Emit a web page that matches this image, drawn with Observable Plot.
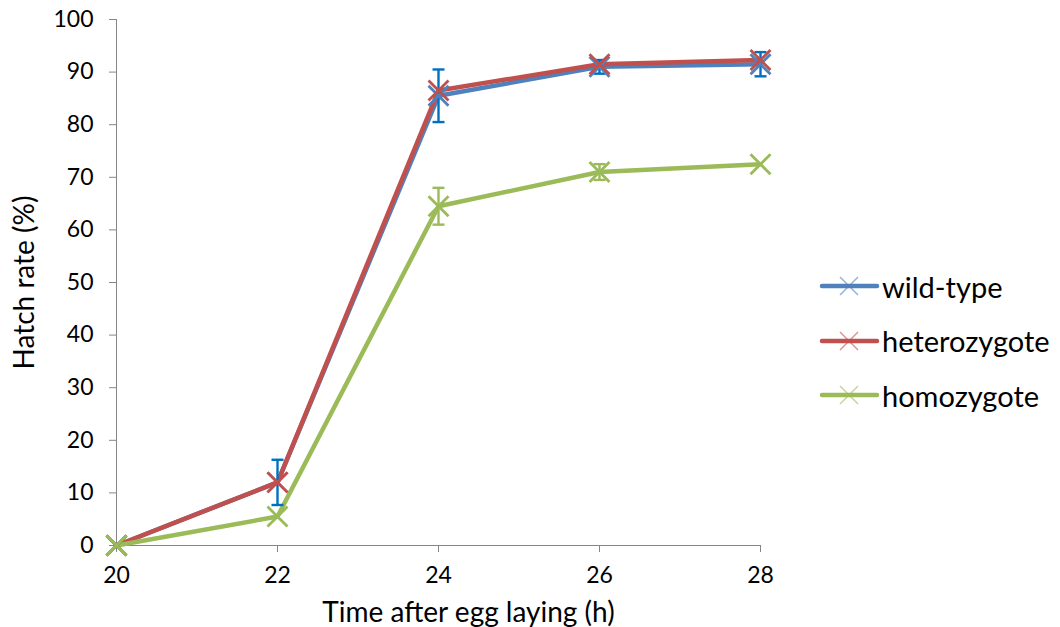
<!DOCTYPE html>
<html><head><meta charset="utf-8">
<script src="https://cdn.jsdelivr.net/npm/d3@7"></script>
<script src="https://cdn.jsdelivr.net/npm/@observablehq/plot@0.6"></script>
<style>
body{margin:0;background:#fff;font-family:Lato,"Open Sans",sans-serif;}
#wrap{position:relative;width:1060px;height:627px;}
#legend{position:absolute;left:818px;top:259px;font-size:29px;color:#000;}
.item{display:flex;align-items:center;height:54.5px;}
.item span{margin-left:2px;}
</style>
</head><body><div id="wrap"><div id="chart"></div><div id="legend"></div></div>
<script>
const hours = [20, 22, 24, 26, 28];
const seriesNames = ["wild-type", "heterozygote", "homozygote"];
const wildType = [0, 12, 85.5, 91, 91.5];
const heterozygote = [0, 12, 86.5, 91.5, 92.3];
const homozygote = [0, 5.5, 64.5, 71, 72.5];
const wildTypeErr = [0, 4.3, 5, 1.3, 2.3];
const homozygoteErr = [0, 0, 3.5, 1.5, 0];
const colors = ["#4F81BD", "#C0504D", "#9BBB59"];
const errColors = ["#0070C0", "#9BBB59"];
const yTicks = [0,10,20,30,40,50,60,70,80,90,100];
const xTicks = [20,22,24,26,28];

const vals = [wildType, heterozygote, homozygote];
const data = [];
seriesNames.forEach((s,i)=>hours.forEach((h,j)=>data.push({series:s,x:h,y:vals[i][j]})));
const errs = [];
[["wild-type",wildType,wildTypeErr],["homozygote",homozygote,homozygoteErr]].forEach(([s,v,e])=>{
  hours.forEach((h,j)=>{ if(e[j]>0) errs.push({series:s,x:h,lo:v[j]-e[j],hi:v[j]+e[j]}); });
});

const cross = {draw(ctx,size){const r=Math.sqrt(size/Math.PI);ctx.moveTo(-r,-r);ctx.lineTo(r,r);ctx.moveTo(-r,r);ctx.lineTo(r,-r);}};
const hbar = {draw(ctx,size){const r=Math.sqrt(size/Math.PI);ctx.moveTo(-r,0);ctx.lineTo(r,0);}};

const errColor = d => d.series==="wild-type" ? errColors[0] : errColors[1];

const chart = Plot.plot({
  width: 1060, height: 627,
  marginLeft: 116, marginRight: 300, marginTop: 19, marginBottom: 82,
  style: {fontFamily: "Lato, 'Open Sans', sans-serif", fontSize: "23px", color: "#000", background:"#fff"},
  x: {domain:[20,28]},
  y: {domain:[0,100]},
  color: {domain: seriesNames, range: colors},
  marks: [
    Plot.axisX({ticks: xTicks, tickSize: 7, tickPadding: 14, stroke:"#868686", fontSize: 23, label: "Time after egg laying (h)", labelAnchor:"center", labelOffset: 76, labelArrow:"none"}),
    Plot.axisY({ticks: yTicks, tickSize: 7, tickPadding: 16, stroke:"#868686", fontSize: 23, label: "Hatch rate (%)", labelAnchor:"center", labelOffset: 102, labelArrow:"none"}),
    Plot.ruleY([0], {stroke:"#868686", strokeWidth:1}),
    Plot.ruleX([20], {stroke:"#868686", strokeWidth:1}),
    Plot.line(data, {x:"x", y:"y", z:"series", stroke:"series", strokeWidth:4.5, strokeLinejoin:"round", strokeLinecap:"round"}),
    Plot.ruleX(errs, {x:"x", y1:"lo", y2:"hi", stroke: errColor, strokeWidth:2.4}),
    Plot.dot(errs, {x:"x", y:"lo", symbol: hbar, r:6, stroke: errColor, strokeWidth:2.4}),
    Plot.dot(errs, {x:"x", y:"hi", symbol: hbar, r:6, stroke: errColor, strokeWidth:2.4}),
    Plot.dot(data, {x:"x", y:"y", stroke:"series", symbol: cross, r:10, strokeWidth:2.8})
  ]
});
chart.querySelectorAll('[aria-label="x-axis label"] text, [aria-label="y-axis label"] text').forEach(t=>t.setAttribute("font-size","28"));
chart.querySelectorAll('[aria-label="x-axis label"] text').forEach(t=>t.setAttribute("dx","30"));
document.getElementById("chart").appendChild(chart);

const legend = document.getElementById("legend");
seriesNames.forEach((s,i)=>{
  const div = document.createElement("div"); div.className="item";
  div.innerHTML = `<svg width="62" height="24"><line x1="4" y1="12" x2="59" y2="12" stroke="${colors[i]}" stroke-width="4.5" stroke-linecap="round"/><path d="M22,3L40,21M22,21L40,3" stroke="${colors[i]}" stroke-opacity="0.6" stroke-width="1.5"/></svg><span>${s}</span>`;
  legend.appendChild(div);
});
</script></body></html>
